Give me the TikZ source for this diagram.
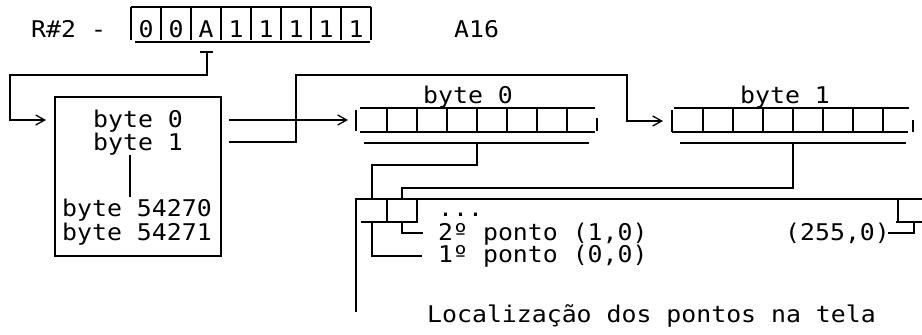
\documentclass[tikz,border=0pt]{standalone}
\usepackage{fontspec}
\newfontfamily\asciifont[FakeStretch=1.08]{DejaVu Sans Mono}
\newcommand{\asciitext}{\asciifont\fontsize{23}{25}\selectfont}
\usetikzlibrary{arrows.meta}

\begin{document}
\begin{tikzpicture}[x=1pt, y=-1pt,
    txt/.style={font=\asciitext, anchor=base west, inner sep=0pt},
    digit/.style={font=\asciitext, anchor=base, inner sep=0pt},
    wire/.style={line width=1.3pt},
    bar/.style={line width=2.2pt},
    ptr/.style={wire, -{Straight Barb[length=9pt, width=10pt]}}]
    \useasboundingbox (0,0) rectangle (922,335);

    % registrador R#2
    \node[txt] (rlabel) at (31,37) {R\#2 -};
    \draw[wire] (131,7) -- (371,7);
    \foreach \i in {0,...,8}
        \draw[wire] ({131+30*\i},7) -- ({131+30*\i},40);
    \draw[bar] (135,42) -- (370,42);
    \foreach \d [count=\i] in {0,0,A,1,1,1,1,1}
        \node[digit] (r\i) at ({116+30*\i},37) {\d};
    \node[txt] (a16) at (454,37) {A16};
    \coordinate (tee) at (207,52);
    \draw[wire] (200,52) -- (213,52);

    % bloco de memoria
    \node[draw, wire, inner sep=0pt, minimum width=166pt, minimum height=159pt] (mem) at (138,176.5) {};
    \node[txt] (m0) at (93,127) {byte 0};
    \node[txt] (m1) at (93,150) {byte 1};
    \node[txt] (m2) at (62,216) {byte 54270};
    \node[txt] (m3) at (62,240) {byte 54271};
    \draw[wire] (130,155) -- (130,197);
    \coordinate (out0) at (229,120);
    \coordinate (out1) at (229,142);

    % byte 0 e byte 1
    \node[txt] (lb0) at (423,103) {byte 0};
    \node[txt] (lb1) at (740,103) {byte 1};
    \draw[wire] (356,110) -- (356,131);
    \draw[bar] (360,108) -- (595,108);
    \draw[bar] (360,132) -- (595,132);
    \foreach \i in {1,...,7}
        \draw[wire] ({357+30*\i},108) -- ({357+30*\i},132);
    \draw[wire] (597,118) -- (597,131);
    \draw[wire] (364,143) -- (589,143);
    \draw[wire] (672,110) -- (672,132);
    \draw[bar] (674,108) -- (909,108);
    \draw[bar] (672,132) -- (908,132);
    \foreach \i in {1,...,7}
        \draw[wire] ({673+30*\i},108) -- ({673+30*\i},132);
    \draw[wire] (913,120) -- (913,132);
    \draw[wire] (680,143) -- (906,143);
    \coordinate (in0) at (348,120);
    \coordinate (in1) at (663,121);
    \coordinate (dn0) at (477,143);
    \coordinate (dn1) at (793,143);

    % pontos na tela
    \coordinate (p0) at (372,199);
    \coordinate (p1) at (402,199);
    \draw[wire] (356,312) -- (356,199) -- (922,199);
    \draw[wire] (387,199) -- (387,222);
    \draw[wire] (417,199) -- (417,222);
    \draw[bar] (361,222) -- (418,222);
    \draw[wire] (898,199) -- (898,222);
    \draw[bar] (896,222) -- (922,222);
    \node[txt] (dots) at (438,216) {...};
    \node[txt] (pt2) at (438,240) {2º ponto (1,0)};
    \node[txt] (pt1) at (438,262) {1º ponto (0,0)};
    \node[txt] (pt255) at (785,240) {(255,0)};
    \node[txt] (title) at (427,322) {Localização dos pontos na tela};
    \coordinate (q1) at (422,256);
    \coordinate (q2) at (423,233);
    \coordinate (q255) at (888,233);

    % ligacoes
    \draw[ptr] (tee) -- (207,75) -- (10,75) -- (10,120) -- (46,120);
    \draw[ptr] (out0) -- (in0);
    \draw[ptr] (out1) -- (296,142) -- (296,75) -- (627,75) -- (627,121) -- (in1);
    \draw[wire] (dn0) -- (477,165) -- (372,165) -- (p0);
    \draw[wire] (dn1) -- (793,188) -- (402,188) -- (p1);
    \draw[wire] (372,222) -- (372,256) -- (q1);
    \draw[wire] (402,222) -- (402,233) -- (q2);
    \draw[wire] (q255) -- (914,233) -- (914,222);
\end{tikzpicture}
\end{document}
